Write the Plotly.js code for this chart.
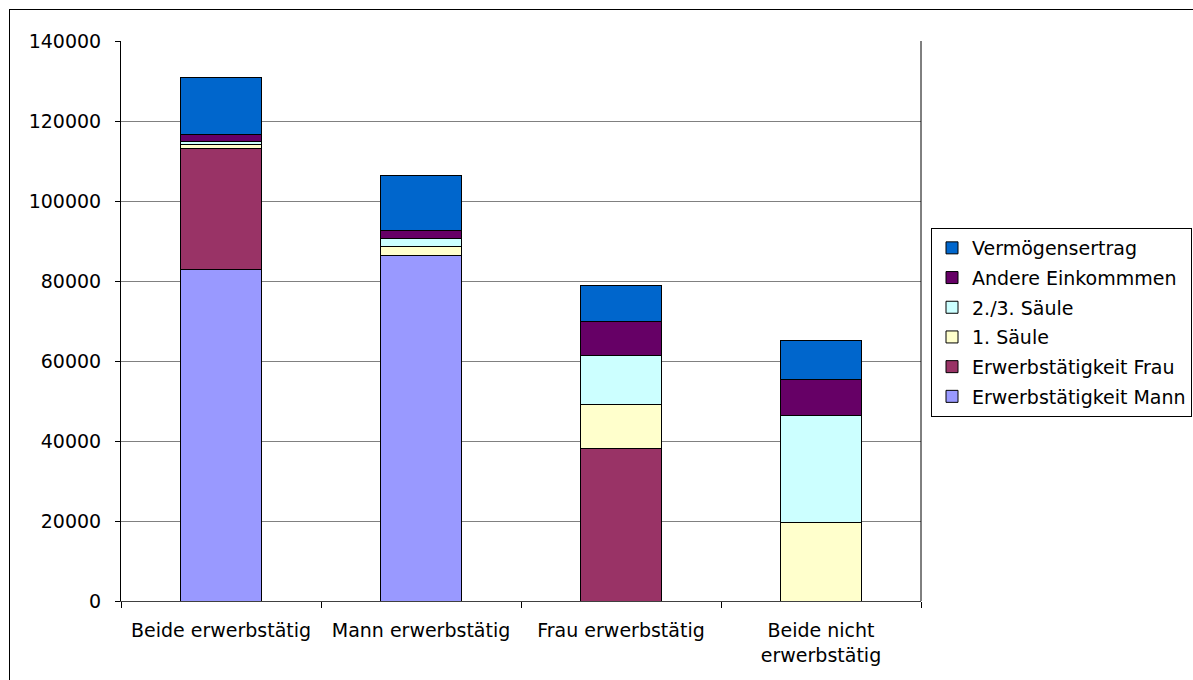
<!DOCTYPE html>
<html>
<head>
<meta charset="utf-8">
<script src="https://cdn.plot.ly/plotly-3.0.1.min.js"></script>
<style>
  html, body { margin: 0; padding: 0; background: #ffffff; }
  #frame { position: absolute; left: 9px; top: 9px; width: 1200px; height: 700px; border: 1px solid #000; box-sizing: border-box; }
  #chart { position: absolute; left: 0; top: 0; width: 1193px; height: 680px; }
</style>
</head>
<body>
<div id="frame"></div>
<div id="chart"></div>
<script>
const categories = ["Beide erwerbstätig", "Mann erwerbstätig", "Frau erwerbstätig", "Beide nicht<br>erwerbstätig"];
const erwerbMann   = [82900, 86500, 0, 0];
const erwerbFrau   = [30300, 0, 38200, 0];
const saeule1      = [900, 2100, 10900, 19600];
const saeule23     = [900, 2000, 12200, 26900];
const andere       = [1750, 2000, 8700, 8900];
const vermoegen    = [14100, 13700, 8800, 9800];

const seriesNames  = ["Erwerbstätigkeit Mann", "Erwerbstätigkeit Frau", "1. Säule", "2./3. Säule", "Andere Einkommmen", "Vermögensertrag"];
const seriesValues = [erwerbMann, erwerbFrau, saeule1, saeule23, andere, vermoegen];
const seriesColors = ["#9999FF", "#993366", "#FFFFCC", "#CCFFFF", "#660066", "#0066CC"];

const traces = seriesNames.map((n, i) => ({
  type: "bar",
  name: n,
  legendgroup: "g" + i,
  legendrank: 100 - i,
  x: categories,
  y: seriesValues[i],
  width: 0.405,
  marker: { color: seriesColors[i], line: { color: "#000000", width: 1 } },
  hoverinfo: "skip"
}));

const FONT = "DejaVu Sans, Liberation Sans, Arial, sans-serif";

const layout = {
  width: 1193,
  height: 680,
  barmode: "stack",
  paper_bgcolor: "rgba(0,0,0,0)",
  plot_bgcolor: "rgba(0,0,0,0)",
  margin: { l: 121, r: 272, t: 41, b: 79, pad: 0, autoexpand: false },
  font: { family: FONT, size: 19, color: "#000000" },
  showlegend: true,
  legend: {
    xref: "container", yref: "container",
    x: 931 / 1193, y: 1 - 228 / 680, xanchor: "left", yanchor: "top",
    traceorder: "grouped",
    tracegroupgap: 2,
    bordercolor: "#000000", borderwidth: 1,
    bgcolor: "#ffffff",
    font: { family: FONT, size: 19 },
    itemwidth: 30
  },
  xaxis: {
    type: "category",
    showline: true, linecolor: "#404040", linewidth: 1,
    ticks: "outside", tickson: "boundaries", ticklen: 6, tickcolor: "#000000",
    showgrid: false,
    zeroline: false,
    ticklabelstandoff: 12,
    tickfont: { family: FONT, size: 19 }
  },
  yaxis: {
    range: [0, 140000],
    dtick: 20000,
    tickformat: "d",
    showline: true, linecolor: "#000000", linewidth: 1,
    ticks: "outside", ticklen: 5, tickcolor: "#000000",
    showgrid: true, gridcolor: "#808080", gridwidth: 1,
    zeroline: false,
    ticklabelstandoff: 10,
    tickfont: { family: FONT, size: 19 }
  },
  shapes: [
    { type: "line", xref: "paper", yref: "paper", x0: 1, x1: 1, y0: 0, y1: 1, line: { color: "#000000", width: 1 } }
  ]
};

Plotly.newPlot("chart", traces, layout, { staticPlot: true, displayModeBar: false });
</script>
</body>
</html>
